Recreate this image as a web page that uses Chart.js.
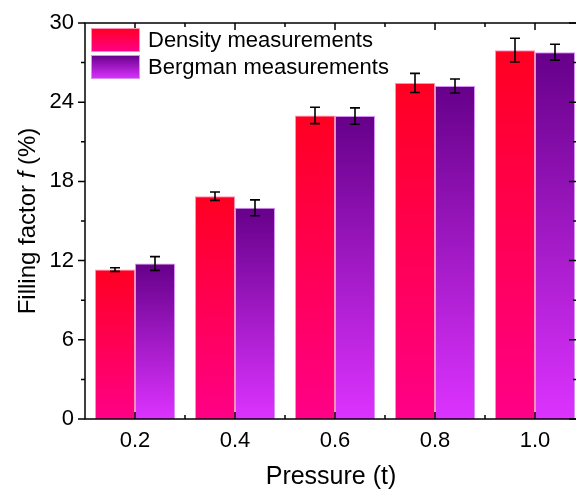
<!DOCTYPE html>
<html>
<head>
<meta charset="utf-8">
<script src="https://cdn.jsdelivr.net/npm/chart.js@4.4.1/dist/chart.umd.min.js"></script>
<style>
  html, body { margin: 0; padding: 0; background: #fff; overflow: hidden; }
  #wrap { width: 576px; height: 491px; overflow: hidden; }
</style>
</head>
<body>
<div id="wrap"><canvas id="chart" width="580" height="491"></canvas></div>
<script>
const pressure = [0.2, 0.4, 0.6, 0.8, 1.0];
const densityValues = [11.32, 16.88, 23.0, 25.46, 27.94];
const densityErrors = [0.14, 0.32, 0.62, 0.72, 0.9];
const bergmanValues = [11.78, 16.0, 22.95, 25.23, 27.79];
const bergmanErrors = [0.52, 0.6, 0.62, 0.53, 0.6];
const yTicks = [0, 6, 12, 18, 24, 30];
const yMinorTicks = [3, 9, 15, 21, 27];
const xMinorTicks = [0.3, 0.5, 0.7, 0.9];

const FONT = '"Liberation Sans", Arial, sans-serif';
const redTop = '#ff0022', redBottom = '#ff0088';
const purpleTop = '#66008a', purpleBottom = '#dc33ff';

// vertical gradient from the top of each bar down to the axis
function barFill(ctx, top, bottom) {
  const chart = ctx.chart;
  const area = chart.chartArea;
  if (!area || !ctx.parsed) return top;
  const y0 = chart.scales.y.getPixelForValue(ctx.parsed.y);
  const g = chart.ctx.createLinearGradient(0, y0, 0, area.bottom);
  g.addColorStop(0, top);
  g.addColorStop(1, bottom);
  return g;
}

const errors = [densityErrors, bergmanErrors];

const framePlugin = {
  id: 'frame',
  afterDatasetsDraw(chart) {
    const c = chart.ctx, a = chart.chartArea;
    const xs = chart.scales.x, ys = chart.scales.y;
    c.save();
    // error bars
    c.strokeStyle = '#000';
    c.lineWidth = 1.6;
    chart.data.datasets.forEach((ds, i) => {
      chart.getDatasetMeta(i).data.forEach((bar, j) => {
        const v = ds.data[j].y, e = errors[i][j];
        const yt = ys.getPixelForValue(v + e), yb = ys.getPixelForValue(v - e);
        c.beginPath();
        c.moveTo(bar.x, yt); c.lineTo(bar.x, yb);
        c.moveTo(bar.x - 5, yt); c.lineTo(bar.x + 5, yt);
        c.moveTo(bar.x - 5, yb); c.lineTo(bar.x + 5, yb);
        c.stroke();
      });
    });
    // frame
    c.lineWidth = 1.5;
    c.strokeRect(a.left, a.top, a.right - a.left, a.bottom - a.top);
    c.beginPath();
    yTicks.forEach(v => {
      const y = ys.getPixelForValue(v);
      c.moveTo(a.left - 7, y); c.lineTo(a.left, y);
      c.moveTo(a.right - 8, y); c.lineTo(a.right, y);
    });
    yMinorTicks.forEach(v => {
      const y = ys.getPixelForValue(v);
      c.moveTo(a.left - 4, y); c.lineTo(a.left, y);
      c.moveTo(a.right - 4, y); c.lineTo(a.right, y);
    });
    pressure.forEach(v => {
      const x = xs.getPixelForValue(v);
      c.moveTo(x, a.bottom); c.lineTo(x, a.bottom - 7);
      c.moveTo(x, a.top); c.lineTo(x, a.top + 7);
    });
    xMinorTicks.forEach(v => {
      const x = xs.getPixelForValue(v);
      c.moveTo(x, a.bottom); c.lineTo(x, a.bottom - 4);
      c.moveTo(x, a.top); c.lineTo(x, a.top + 4);
    });
    c.stroke();

    // legend
    const items = [
      { label: chart.data.datasets[0].label, top: redTop, bottom: redBottom, edge: '#ff8fb4' },
      { label: chart.data.datasets[1].label, top: purpleTop, bottom: purpleBottom, edge: '#d890f2' }
    ];
    items.forEach((it, k) => {
      const bx = 91, by = 28 + k * 27, bw = 49, bh = 24;
      const g = c.createLinearGradient(0, by, 0, by + bh);
      g.addColorStop(0, it.top);
      g.addColorStop(1, it.bottom);
      c.fillStyle = g;
      c.fillRect(bx, by, bw, bh);
      c.strokeStyle = it.edge;
      c.lineWidth = 1;
      c.strokeRect(bx + 0.5, by + 0.5, bw - 1, bh - 1);
      c.fillStyle = '#000';
      c.font = '22px ' + FONT;
      c.textBaseline = 'middle';
      c.textAlign = 'left';
      c.fillText(it.label, 148, by + bh / 2 + 1);
    });

    // axis titles
    c.fillStyle = '#000';
    c.textBaseline = 'middle';
    c.font = '25px ' + FONT;
    c.textAlign = 'center';
    c.fillText('Pressure (t)', (a.left + 577) / 2, 477);

    c.translate(28, (a.top + a.bottom) / 2);
    c.rotate(-Math.PI / 2);
    const parts = [['Filling factor ', '24px ' + FONT], ['f', 'italic 24px ' + FONT], [' (%)', '24px ' + FONT]];
    let total = 0;
    parts.forEach(p => { c.font = p[1]; total += c.measureText(p[0]).width; });
    let x = -total / 2;
    c.textAlign = 'left';
    parts.forEach(p => { c.font = p[1]; c.fillText(p[0], x, 0); x += c.measureText(p[0]).width; });
    c.restore();
  }
};

new Chart(document.getElementById('chart'), {
  type: 'bar',
  data: {
    datasets: [{
      label: 'Density measurements',
      data: pressure.map((p, i) => ({ x: p, y: densityValues[i] })),
      backgroundColor: ctx => barFill(ctx, redTop, redBottom),
      borderColor: '#ff8fb4',
      borderWidth: 1,
      categoryPercentage: 0.8,
      barPercentage: 1.0
    }, {
      label: 'Bergman measurements',
      data: pressure.map((p, i) => ({ x: p, y: bergmanValues[i] })),
      backgroundColor: ctx => barFill(ctx, purpleTop, purpleBottom),
      borderColor: '#d890f2',
      borderWidth: 1,
      categoryPercentage: 0.8,
      barPercentage: 1.0
    }]
  },
  options: {
    responsive: false,
    animation: false,
    layout: { padding: { top: 23, right: 3, left: 0, bottom: 0 } },
    plugins: { legend: { display: false }, tooltip: { enabled: false } },
    scales: {
      x: {
        type: 'linear',
        offset: false,
        min: 0.1,
        max: 1.084,
        grid: { display: false, offset: false },
        border: { display: false },
        afterBuildTicks: s => { s.ticks = pressure.map(v => ({ value: v })); },
        afterFit: s => { s.height = 72; },
        ticks: {
          color: '#000',
          font: { family: FONT, size: 22 },
          padding: 1,
          maxRotation: 0,
          callback: v => v.toFixed(1)
        }
      },
      y: {
        min: 0,
        max: 30,
        grid: { display: false },
        border: { display: false },
        afterBuildTicks: s => { s.ticks = yTicks.map(v => ({ value: v })); },
        afterFit: s => { s.width = 85; },
        ticks: {
          color: '#000',
          font: { family: FONT, size: 22 },
          padding: 3
        }
      }
    }
  },
  plugins: [framePlugin]
});
</script>
</body>
</html>
